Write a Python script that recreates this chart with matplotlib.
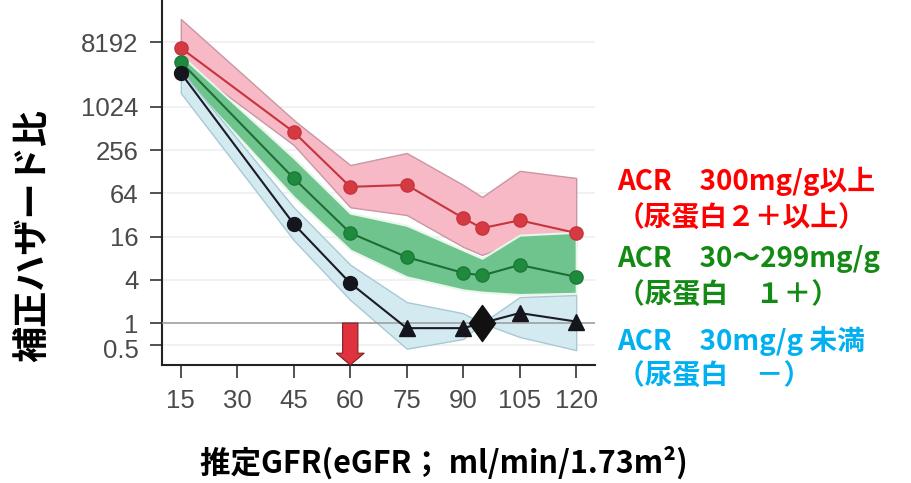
import matplotlib
matplotlib.use("Agg")
import matplotlib.pyplot as plt
import matplotlib.transforms as mtransforms
from matplotlib.patches import FancyArrowPatch
from matplotlib.path import Path

# eGFR categories (ml/min/1.73m2) and adjusted hazard ratios
egfr = [15, 45, 60, 75, 90, 95, 105, 120]
xticks = [15, 30, 45, 60, 75, 90, 105, 120]
yticks = [0.5, 1, 4, 16, 64, 256, 1024, 8192]
ytick_labels = ["0.5", "1", "4", "16", "64", "256", "1024", "8192"]

# ACR >= 300 mg/g
hr_high = [6800, 458, 79, 84, 29, 21, 27, 18]
hr_high_lo = [4500, 302, 41, 32, 11.5, 8.9, 14, 12]
hr_high_hi = [17200, 675, 159, 234, 84, 57, 132, 105]

# ACR 30-299 mg/g
hr_mid = [4330, 104, 18, 8.3, 5.0, 4.6, 6.45, 4.4]
hr_mid_lo = [2900, 57, 10.4, 4.4, 2.9, 2.7, 2.5, 2.6]
hr_mid_hi = [5400, 200, 34, 23, 10.4, 8.0, 16.8, 18.4]

# ACR < 30 mg/g (reference group at eGFR 95)
hr_low = [3040, 24, 3.6, 0.85, 0.85, 1.0, 1.38, 1.05]
hr_low_lo = [1600, 14.3, 2.1, 0.44, 0.6, 1.0, 0.64, 0.42]
hr_low_hi = [3300, 41, 6.5, 1.96, 1.37, 1.0, 2.3, 2.46]
ref_egfr = 95
arrow_egfr = 60

legend_lines = [
    ("ACR　300mg/g以上", "#ff0000"),
    ("（尿蛋白２＋以上）", "#ff0000"),
    ("ACR　30〜299mg/g", "#138a13"),
    ("（尿蛋白　１＋）", "#138a13"),
    ("ACR　30mg/g 未満", "#00b0f0"),
    ("（尿蛋白　－）", "#00b0f0"),
]
ylabel = "補正ハザード比"
xlabel = "推定GFR(eGFR； ml/min/1.73m²)"

JP = ["Noto Sans CJK JP", "DejaVu Sans"]
plt.rcParams["font.family"] = ["Liberation Sans", "DejaVu Sans"]

fig = plt.figure(figsize=(9.12, 4.83), dpi=100)
ax = fig.add_axes([162 / 912, 1 - 365 / 483, (595 - 162) / 912, 365 / 483])

ax.set_yscale("log", base=2)
ax.set_xlim(10, 125)
ax.set_ylim(2 ** -1.94, 2 ** 14.95)

# light horizontal grid
for v in yticks:
    ax.axhline(v, color="#f0f0f0", lw=1.3, zorder=0)

# confidence bands
ax.fill_between(egfr, hr_high_lo, hr_high_hi, facecolor="#f7b9c5",
                edgecolor="#c996a3", lw=1.0, zorder=1)
ax.fill_between(egfr, hr_mid_lo, hr_mid_hi, facecolor="#6fc48d",
                edgecolor="#e8f6ec", lw=1.5, zorder=2)
ax.fill_between(egfr, hr_low_lo, hr_low_hi, facecolor="#d3eaf1",
                edgecolor="#a8c9d4", lw=1.0, zorder=3)

ax.axhline(1, color="#9a9a9a", lw=1.1, zorder=4)

# series lines and markers
ax.plot(egfr, hr_high, color="#c6343d", lw=1.5, marker="o", ms=9.5,
        mfc="#d53a42", mec="#c6343d", zorder=6)
ax.plot(egfr, hr_mid, color="#1d6e35", lw=1.5, marker="o", ms=9.5,
        mfc="#1d8a3e", mec="#1d7a38", zorder=6)
ax.plot(egfr, hr_low, color="#1b1b26", lw=1.5, zorder=6)

tall_diamond = Path([(0, 1), (0.72, 0), (0, -1), (-0.72, 0), (0, 1)],
                    [Path.MOVETO, Path.LINETO, Path.LINETO, Path.LINETO,
                     Path.CLOSEPOLY])

circ = [i for i, x in enumerate(egfr) if x <= arrow_egfr]
tri = [i for i, x in enumerate(egfr) if x > arrow_egfr and x != ref_egfr]
ref = [i for i, x in enumerate(egfr) if x == ref_egfr]
ax.plot([egfr[i] for i in circ], [hr_low[i] for i in circ], ls="none",
        marker="o", ms=10, color="#15151d", zorder=7)
ax.plot([egfr[i] for i in tri], [hr_low[i] for i in tri], ls="none",
        marker="^", ms=11, color="#15151d", zorder=7)
ax.plot([egfr[i] for i in ref], [hr_low[i] for i in ref], ls="none",
        marker=tall_diamond, ms=26, color="#111111", zorder=8)

# arrow marking eGFR 60
arrow = FancyArrowPatch((arrow_egfr, 1), (arrow_egfr, 2 ** -1.94),
                        arrowstyle="simple,head_length=8.5,head_width=20,tail_width=11",
                        mutation_scale=1, shrinkA=0, shrinkB=0,
                        facecolor="#e0323e", edgecolor="#7a2020", lw=0.8,
                        zorder=9, clip_on=False)
ax.add_patch(arrow)

ax.set_xticks(xticks)
ax.set_yticks(yticks)
ax.set_yticklabels(ytick_labels)
ax.minorticks_off()
ax.tick_params(axis="both", length=9, width=1.2, color="#333333",
               labelsize=18.5, labelcolor="#4a4a4a", pad=8)

# nudge the lowest y label down a little so it clears "1"
low_lbl = ax.get_yticklabels()[0]
low_lbl.set_transform(low_lbl.get_transform() +
                      mtransforms.ScaledTranslation(0, -4 / 100, fig.dpi_scale_trans))

for s in ("top", "right"):
    ax.spines[s].set_visible(False)
for s in ("left", "bottom"):
    ax.spines[s].set_color("#222222")
    ax.spines[s].set_linewidth(1.5)

fig.text(33 / 912, 1 - 236 / 483, ylabel, rotation=90, ha="center",
         va="center", fontsize=26, fontweight="bold", family=JP)
fig.text(444 / 912, 1 - 463 / 483, xlabel, ha="center", va="center",
         fontsize=22, fontweight="bold", family=JP)

ys = [181, 219, 259, 296, 341, 377]
for (txt, col), y in zip(legend_lines, ys):
    fig.text(617 / 912, 1 - y / 483, txt, ha="left", va="center",
             fontsize=20, fontweight="bold", color=col, family=JP)

fig.savefig("out.png", dpi=100)
